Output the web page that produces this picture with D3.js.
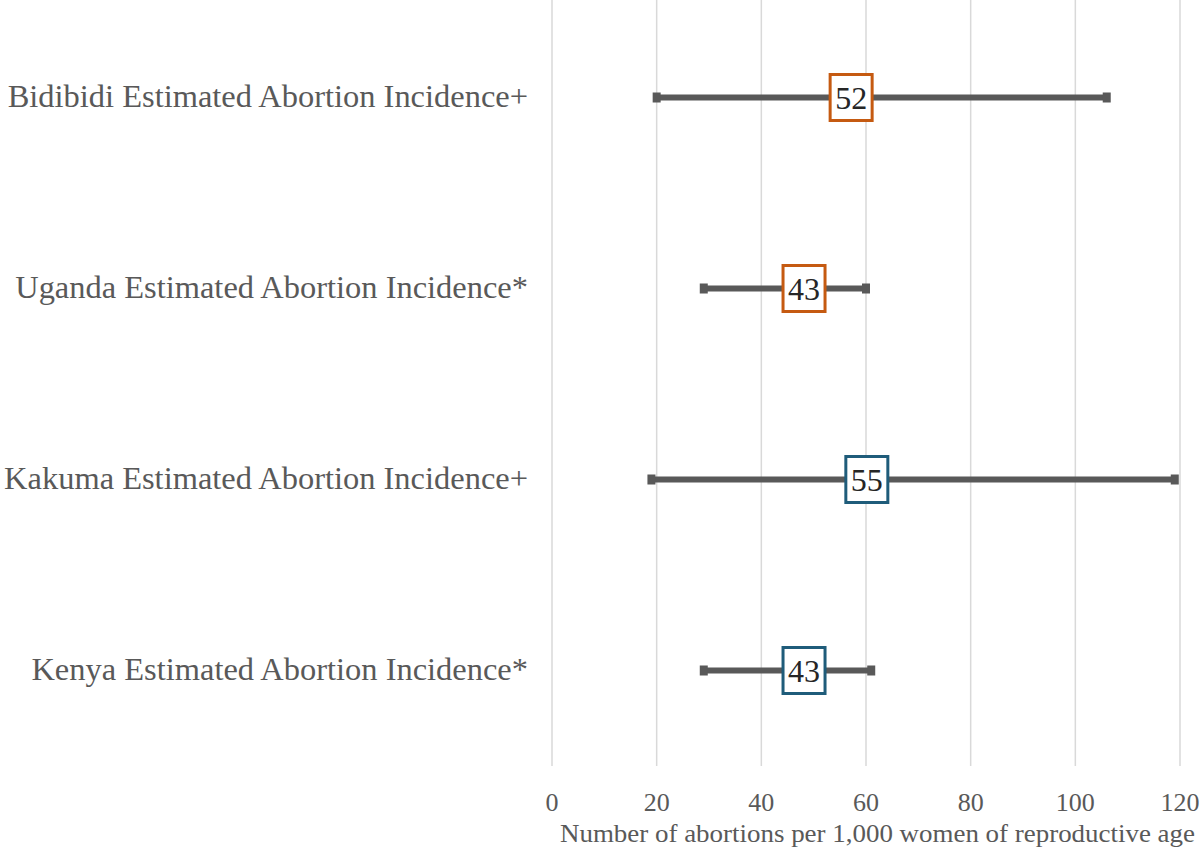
<!DOCTYPE html>
<html><head><meta charset="utf-8">
<script src="https://cdn.jsdelivr.net/npm/d3@7"></script>
<style>
html,body{margin:0;padding:0;background:#fff;}
text{font-family:"Liberation Serif","DejaVu Serif",serif;}
</style></head>
<body>
<svg id="c" width="1200" height="852"></svg>
<script>
const categories = ["Bidibidi Estimated Abortion Incidence+","Uganda Estimated Abortion Incidence*","Kakuma Estimated Abortion Incidence+","Kenya Estimated Abortion Incidence*"];
const estimates = [52, 43, 55, 43];
const lower = [20, 29, 19, 29];
const upper = [106, 60, 119, 61];
const colors = ["#C55A11","#C55A11","#1F5C7A","#1F5C7A"];
const xTicks = [0,20,40,60,80,100,120];
const xTitle = "Number of abortions per 1,000 women of reproductive age";

const svg = d3.select("#c");
const x = d3.scaleLinear().domain([0,120]).range([552,1180]);
const y = d3.scaleBand().domain(categories).range([2,766]);

// gridlines
svg.append("g").selectAll("line").data(xTicks).join("line")
  .attr("x1",d=>x(d)).attr("x2",d=>x(d)).attr("y1",0).attr("y2",766)
  .attr("stroke","#d9d9d9").attr("stroke-width",1.5);

// x tick labels
svg.append("g").selectAll("text").data(xTicks).join("text")
  .attr("x",d=>x(d)).attr("y",811).attr("text-anchor","middle")
  .attr("fill","#595959").style("font-size","26px").text(d=>d);

svg.append("text").attr("x",1195).attr("y",842).attr("text-anchor","end")
  .attr("fill","#595959").style("font-size","26px").text(xTitle)
  .attr("textLength",635).attr("lengthAdjust","spacingAndGlyphs");

// category labels
const labs = svg.append("g").selectAll("text").data(categories).join("text")
  .attr("x",528).attr("y",d=>y(d)+y.bandwidth()/2+9).attr("text-anchor","end")
  .attr("fill","#595959").style("font-size","28px").text(d=>d);
let maxW = 0; labs.each(function(){maxW=Math.max(maxW,this.getComputedTextLength());});
const fs = 28*524/maxW;
labs.style("font-size",fs+"px");

const cy = i => y(categories[i]) + y.bandwidth()/2;
const rows = d3.range(categories.length);
const g = svg.append("g");
g.selectAll("line.w").data(rows).join("line").attr("class","w")
  .attr("x1",i=>x(lower[i])).attr("x2",i=>x(upper[i]))
  .attr("y1",cy).attr("y2",cy).attr("stroke","#595959").attr("stroke-width",6);
g.selectAll("rect.cl").data(rows).join("rect").attr("class","cl")
  .attr("x",i=>x(lower[i])-4).attr("y",i=>cy(i)-5).attr("width",8).attr("height",10).attr("fill","#595959");
g.selectAll("rect.cu").data(rows).join("rect").attr("class","cu")
  .attr("x",i=>x(upper[i])-4).attr("y",i=>cy(i)-5).attr("width",8).attr("height",10).attr("fill","#595959");
const bw = 42, bh = 46, off = 6;
g.selectAll("rect.b").data(rows).join("rect").attr("class","b")
  .attr("x",i=>x(estimates[i])+off).attr("y",i=>cy(i)-bh/2)
  .attr("width",bw).attr("height",bh).attr("fill","#fff")
  .attr("stroke",i=>colors[i]).attr("stroke-width",3);
g.selectAll("text.v").data(rows).join("text").attr("class","v")
  .attr("x",i=>x(estimates[i])+off+bw/2).attr("y",i=>cy(i)+11)
  .attr("text-anchor","middle").attr("fill","#262626")
  .style("font-size","32px").text(i=>estimates[i]);
</script>
</body></html>
